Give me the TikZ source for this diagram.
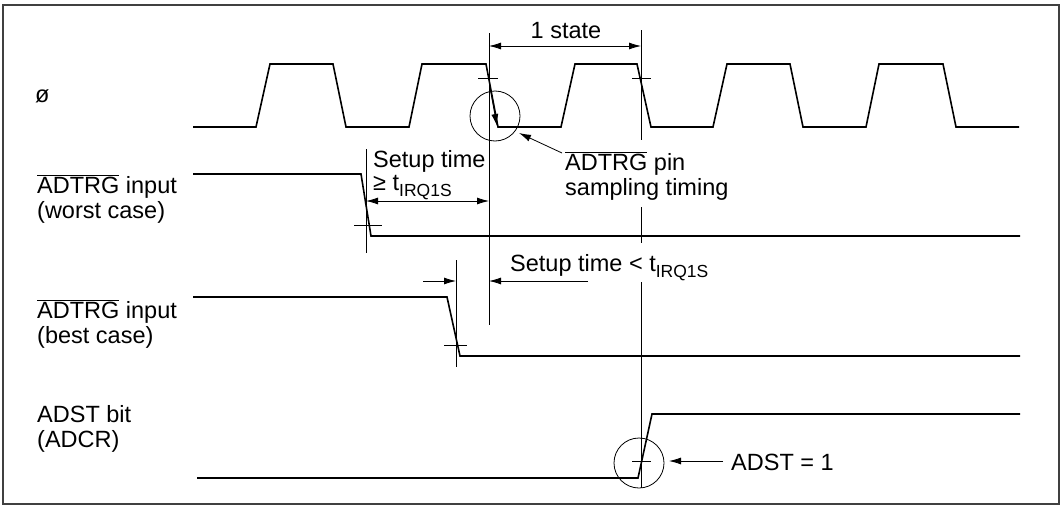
\documentclass[tikz,border=0pt]{standalone}
\usepackage{fontspec}
\setmainfont{Liberation Sans}
\usetikzlibrary{arrows.meta}
\newcommand{\sub}[1]{\raisebox{-0.28em}{\fontsize{17.5}{17.5}\selectfont #1}}
\newcommand{\adtrg}{$\overline{\mbox{ADTRG}}$}
\begin{document}
\begin{tikzpicture}[x=1pt,y=-1pt,
  wave/.style={line width=1.6pt,line join=miter},
  thin/.style={line width=0.8pt},
  tick/.style={line width=0.8pt},
  arr/.style={line width=0.8pt,-{Latex[length=12pt,width=7pt]}},
  darr/.style={line width=0.8pt,{Latex[length=12pt,width=7pt]}-{Latex[length=12pt,width=7pt]}},
  lbl/.style={anchor=base west,inner sep=0pt,font=\fontsize{23.5}{28}\selectfont}]
\useasboundingbox (0,0) rectangle (1063,506);
\draw[line width=1.8pt,black!75] (3,5) rectangle (1059,504);
% coordinates
\coordinate (c0) at (193,127);
\coordinate (cE) at (1019,127);
% clock
\draw[wave] (c0) -- (256,127) -- (270,64) -- (333,64) -- (346,127) -- (409,127) -- (422,64) -- (486,64) -- (498,127)
 -- (561,127) -- (575,64) -- (637,64) -- (651,127) -- (713,127) -- (727,64) -- (790,64) -- (803,127) -- (866,127)
 -- (879,64) -- (943,64) -- (956,127) -- (cE);
% worst case
\draw[wave] (193,174) -- (361,174) -- (371,236) -- (1020,236);
% best case
\draw[wave] (193,297) -- (447,297) -- (460,356) -- (1020,356);
% ADST
\draw[wave] (197,478) -- (638,478) -- (652,414) -- (1020,414);
% vertical reference lines
\coordinate (v1t) at (489,33); \coordinate (v1b) at (489,325);
\draw[thin] (v1t) -- (v1b);
\draw[thin] (641,30) -- (641,140);
\draw[thin] (641,207) -- (641,243);
\draw[thin] (641,282) -- (641,488);
\draw[thin] (366,149) -- (366,253);
\draw[thin] (456,260) -- (456,367);
% ticks
\draw[tick] (478,78) -- (498,78);
\draw[tick] (632,78) -- (651,78);
\draw[tick] (354,225) -- (382,225);
\draw[tick] (444,345) -- (467,345);
\draw[tick] (632,461) -- (651,461);
% circles
\node[draw,thin,circle,minimum size=50pt,inner sep=0pt] (circA) at (495,116) {};
\node[draw,thin,circle,minimum size=50pt,inner sep=0pt] (circB) at (639,463) {};
% labels
\node[lbl] (phi) at (35,102) {ø};
\node[lbl] (w1) at (37,193) {\adtrg{} input};
\node[lbl] (w2) at (37,218) {(worst case)};
\node[lbl] (b1) at (37,318) {\adtrg{} input};
\node[lbl] (b2) at (37,343) {(best case)};
\node[lbl] (a1) at (37,422) {ADST bit};
\node[lbl] (a2) at (37,447) {(ADCR)};
\node[lbl,anchor=base] (st) at (566,38) {1 state};
\node[lbl] (su1) at (373,167) {Setup time};
\node[lbl] (su2) at (373,190) {≥ t\sub{IRQ1S}};
\node[lbl] (pin1) at (565,170) {\adtrg{} pin};
\node[lbl] (pin2) at (565,195) {sampling timing};
\node[lbl] (su3) at (510,271) {Setup time < t\sub{IRQ1S}};
\node[lbl] (adst) at (731,470) {ADST = 1};
% arrows
\coordinate (s1) at (489,46); \coordinate (s2) at (641,46);
\draw[darr] (s1) -- (s2);
\draw[darr] (366,201) -- (489,201);
\draw[arr] (588,281) -- (489,281);
\draw[arr] (423,281) -- (456,281);
\draw[arr] (490,88) -- (497,126);
\draw[arr] (562,153) -- (519,133);
\draw[arr] (723,461) -- (669,461);
\end{tikzpicture}
\end{document}
